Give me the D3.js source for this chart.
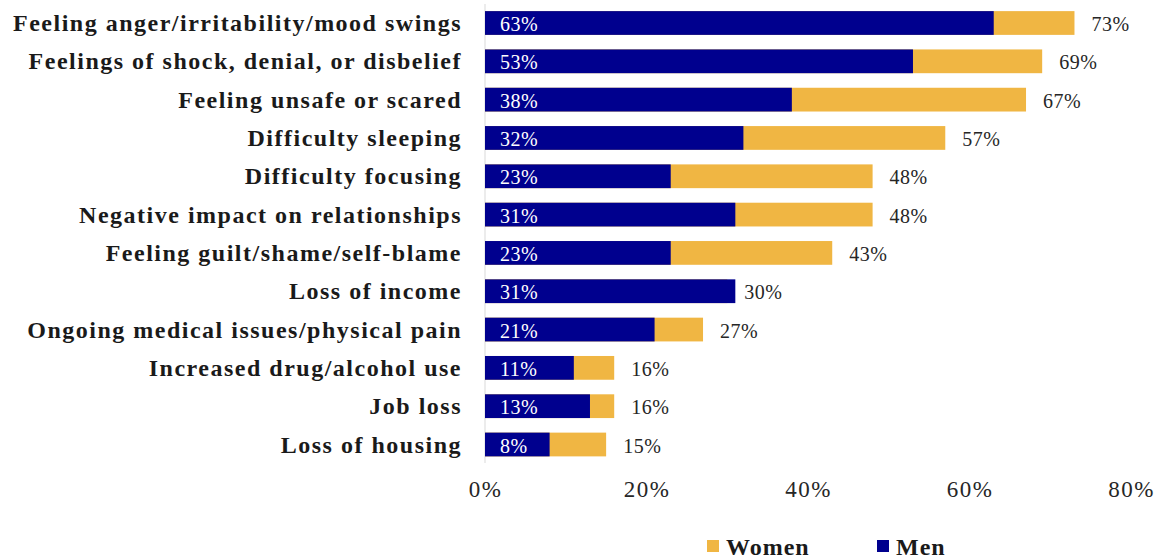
<!DOCTYPE html>
<html>
<head>
<meta charset="utf-8">
<script src="https://cdn.jsdelivr.net/npm/d3@7/dist/d3.min.js"></script>
<style>
  html, body { margin: 0; padding: 0; background: #fff; }
  svg { display: block; }
</style>
</head>
<body>
<svg id="chart" width="1160" height="559"></svg>
<script>
const categories = [
  "Feeling anger/irritability/mood swings",
  "Feelings of shock, denial, or disbelief",
  "Feeling unsafe or scared",
  "Difficulty sleeping",
  "Difficulty focusing",
  "Negative impact on relationships",
  "Feeling guilt/shame/self-blame",
  "Loss of income",
  "Ongoing medical issues/physical pain",
  "Increased drug/alcohol use",
  "Job loss",
  "Loss of housing"
];
const men   = [63, 53, 38, 32, 23, 31, 23, 31, 21, 11, 13, 8];
const women = [73, 69, 67, 57, 48, 48, 43, 30, 27, 16, 16, 15];
const xTicks = [0, 20, 40, 60, 80];
const seriesNames = ["Women", "Men"];

const colors = { Women: "#F0B643", Men: "#00008E" };
const serif = "'Liberation Serif', 'DejaVu Serif', serif";

const svg = d3.select("#chart");

const x = d3.scaleLinear().domain([0, 80]).range([485, 1131]);
const y = d3.scaleBand().domain(categories).range([3.84, 463.66])
  .paddingInner(0.38).paddingOuter(0.19);

const rows = categories.map((c, i) => ({ c, m: men[i], w: women[i] }));

// Axis line
svg.append("line")
  .attr("x1", x(0)).attr("x2", x(0))
  .attr("y1", 4).attr("y2", 463)
  .attr("stroke", "#d9d9d9").attr("stroke-width", 1);

// Women bars (behind)
svg.append("g").selectAll("rect").data(rows).join("rect")
  .attr("x", x(0))
  .attr("y", d => y(d.c))
  .attr("width", d => x(d.w) - x(0))
  .attr("height", y.bandwidth())
  .attr("fill", colors.Women);

// Men bars (front)
svg.append("g").selectAll("rect").data(rows).join("rect")
  .attr("x", x(0))
  .attr("y", d => y(d.c))
  .attr("width", d => x(d.m) - x(0))
  .attr("height", y.bandwidth())
  .attr("fill", colors.Men);

// Men labels (inside, white)
svg.append("g").selectAll("text").data(rows).join("text")
  .attr("x", x(0) + 15)
  .attr("y", d => y(d.c) + y.bandwidth() / 2 + 1)
  .attr("dominant-baseline", "central")
  .attr("font-family", serif)
  .attr("font-size", 20)
  .attr("letter-spacing", 0.5)
  .attr("fill", "#ffffff")
  .text(d => d.m + "%");

// Women labels (outside)
svg.append("g").selectAll("text").data(rows).join("text")
  .attr("x", d => x(d.w) + 17)
  .attr("y", d => y(d.c) + y.bandwidth() / 2 + 1)
  .attr("dominant-baseline", "central")
  .attr("font-family", serif)
  .attr("font-size", 20)
  .attr("letter-spacing", 0.5)
  .attr("fill", "#262626")
  .text(d => d.w + "%");

// Category labels
svg.append("g").selectAll("text").data(categories).join("text")
  .attr("x", 462)
  .attr("y", d => y(d) + y.bandwidth() / 2)
  .attr("dominant-baseline", "central")
  .attr("text-anchor", "end")
  .attr("font-family", serif)
  .attr("font-weight", "bold")
  .attr("font-size", 24)
  .attr("letter-spacing", 1.5)
  .attr("fill", "#1a1a1a")
  .text(d => d);

// X tick labels
const xAxis = d3.axisBottom(x).tickValues(xTicks).tickSize(0).tickFormat(d => d + "%");
const gx = svg.append("g").attr("transform", "translate(0,480)").call(xAxis);
gx.select(".domain").remove();
gx.selectAll("text")
  .attr("font-family", serif)
  .attr("font-size", 23)
  .attr("letter-spacing", 1.5)
  .attr("fill", "#262626")
  .attr("dy", "0.71em")
  .attr("y", 1);

// Legend
const legend = svg.append("g");
const legendItems = [
  { name: seriesNames[0], x: 707 },
  { name: seriesNames[1], x: 877 }
];
legendItems.forEach(it => {
  legend.append("rect")
    .attr("x", it.x).attr("y", 540)
    .attr("width", 12).attr("height", 12)
    .attr("fill", colors[it.name]);
  legend.append("text")
    .attr("x", it.x + 19).attr("y", 547)
    .attr("dominant-baseline", "central")
    .attr("font-family", serif)
    .attr("font-weight", "bold")
    .attr("font-size", 24)
    .attr("letter-spacing", 1)
    .attr("fill", "#1a1a1a")
    .text(it.name);
});
</script>
</body>
</html>
